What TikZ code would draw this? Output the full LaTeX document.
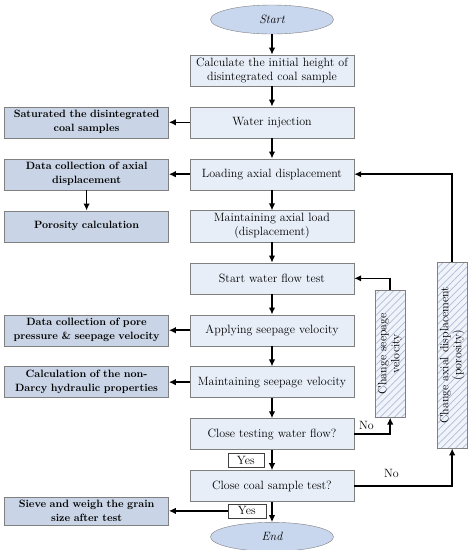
\documentclass[tikz,border=0pt]{standalone}
\usepackage{graphicx}
\usepackage{tikz}
\usetikzlibrary{positioning,arrows.meta,shapes.geometric,calc,patterns.meta}
\definecolor{clinea}{HTML}{808080}
\definecolor{cpaso}{HTML}{E8EEF8}
\definecolor{cdato}{HTML}{C9D5E6}
\definecolor{cterm}{HTML}{C8D6EE}
\definecolor{crayas}{HTML}{AEBCD8}
\definecolor{crayasbg}{HTML}{F0F3FA}
\newcommand{\vertical}[1]{\rotatebox{90}{\begin{tabular}{@{}c@{}}#1\end{tabular}}}
\tikzset{
  paso/.style={rectangle, draw=clinea, fill=cpaso, text width=158pt, inner sep=3pt,
    align=center, minimum height=31pt, font=\fontsize{12}{14}\selectfont},
  dato/.style={paso, fill=cdato, font=\fontsize{10.6}{14}\selectfont\bfseries},
  term/.style={ellipse, draw=clinea, fill=cterm, minimum width=123pt, minimum height=29pt,
    inner sep=1pt, font=\fontsize{12}{14}\selectfont\itshape},
  rayas/.style={rectangle, draw=clinea, preaction={fill=crayasbg},
    pattern={Lines[angle=45,distance=5pt,line width=.7pt]}, pattern color=crayas,
    minimum width=30pt, inner sep=1pt, font=\fontsize{12}{13}\selectfont},
  sibox/.style={rectangle, draw=black!75, fill=white, minimum width=36pt,
    minimum height=14pt, inner sep=1pt, font=\fontsize{12}{13}\selectfont},
  flecha/.style={-{Latex[length=7pt,width=6.5pt]}, line width=1.6pt},
  etq/.style={font=\fontsize{12}{13}\selectfont},
}
\begin{document}
\begin{tikzpicture}[node distance=20.5pt]
  \useasboundingbox (-272pt,19.5pt) rectangle (200pt,-530.5pt);
  \node[term] (ini) {Start};
  \node[paso, below=of ini] (b1) {Calculate the initial height of\\disintegrated coal sample};
  \node[paso, below=of b1] (b2) {Water injection};
  \node[paso, below=of b2] (b3) {Loading axial displacement};
  \node[paso, below=of b3] (b4) {Maintaining axial load\\(displacement)};
  \node[paso, below=of b4] (b5) {Start water flow test};
  \node[paso, below=of b5] (b6) {Applying seepage velocity};
  \node[paso, below=of b6] (b7) {Maintaining seepage velocity};
  \node[paso, below=of b7] (b8) {Close testing water flow?};
  \node[paso, below=of b8] (b9) {Close coal sample test?};
  \node[term, below=of b9] (fin) {End};

  \node[dato, left=21pt of b2] (l1) {Saturated the disintegrated\\coal samples};
  \node[dato, left=21pt of b3] (l2) {Data collection of axial\\displacement};
  \node[dato, left=21pt of b4] (l3) {Porosity calculation};
  \node[dato, left=21pt of b6] (l4) {Data collection of pore\\pressure \& seepage velocity};
  \node[dato, left=21pt of b7] (l5) {Calculation of the non-\\Darcy hydraulic properties};

  \node[sibox, anchor=east] (y1) at ($(b8.south)!.5!(b9.north)+(-8pt,0)$) {Yes};
  \node[sibox, anchor=east, minimum width=38pt] (y2) at ($(b9.south)!.5!(fin.north)+(-6pt,1pt)$) {Yes};
  \node[dato, minimum height=28pt, anchor=east] (l6) at (l5.east |- y2) {Sieve and weigh the grain\\size after test};

  \node[rayas, minimum height=127pt] (cv) at ($(b5.east)!.5!(b8.east)+(36pt,2.5pt)$) {\vertical{Change seepage\\velocity}};
  \node[rayas, minimum height=186pt] (ca) at ($(cv.center)+(62pt,-1.5pt)$) {\vertical{Change axial displacement\\(porosity)}};

  \draw[flecha] (ini) -- (b1);
  \draw[flecha] (b1) -- (b2);
  \draw[flecha] (b2) -- (b3);
  \draw[flecha] (b3) -- (b4);
  \draw[flecha] (b4) -- (b5);
  \draw[flecha] (b5) -- (b6);
  \draw[flecha] (b6) -- (b7);
  \draw[flecha] (b7) -- (b8);
  \draw[flecha] (b8) -- (b9);
  \draw[flecha] (b9) -- (fin);

  \draw[flecha] (b2) -- (l1);
  \draw[flecha] (b3) -- (l2);
  \draw[flecha] (l2) -- (l3);
  \draw[flecha] (b6) -- (l4);
  \draw[flecha] (b7) -- (l5);
  \draw[flecha] (y2) -- (l6);

  \draw[flecha] (b8.east) -| (cv.south) node[pos=.17, above, etq] {No};
  \draw[flecha] (cv.north) |- (b5.east);
  \draw[flecha] (b9.east) -| (ca.south) node[pos=.19, above=4pt, etq] {No};
  \draw[flecha] (ca.north) |- (b3.east);
\end{tikzpicture}
\end{document}
